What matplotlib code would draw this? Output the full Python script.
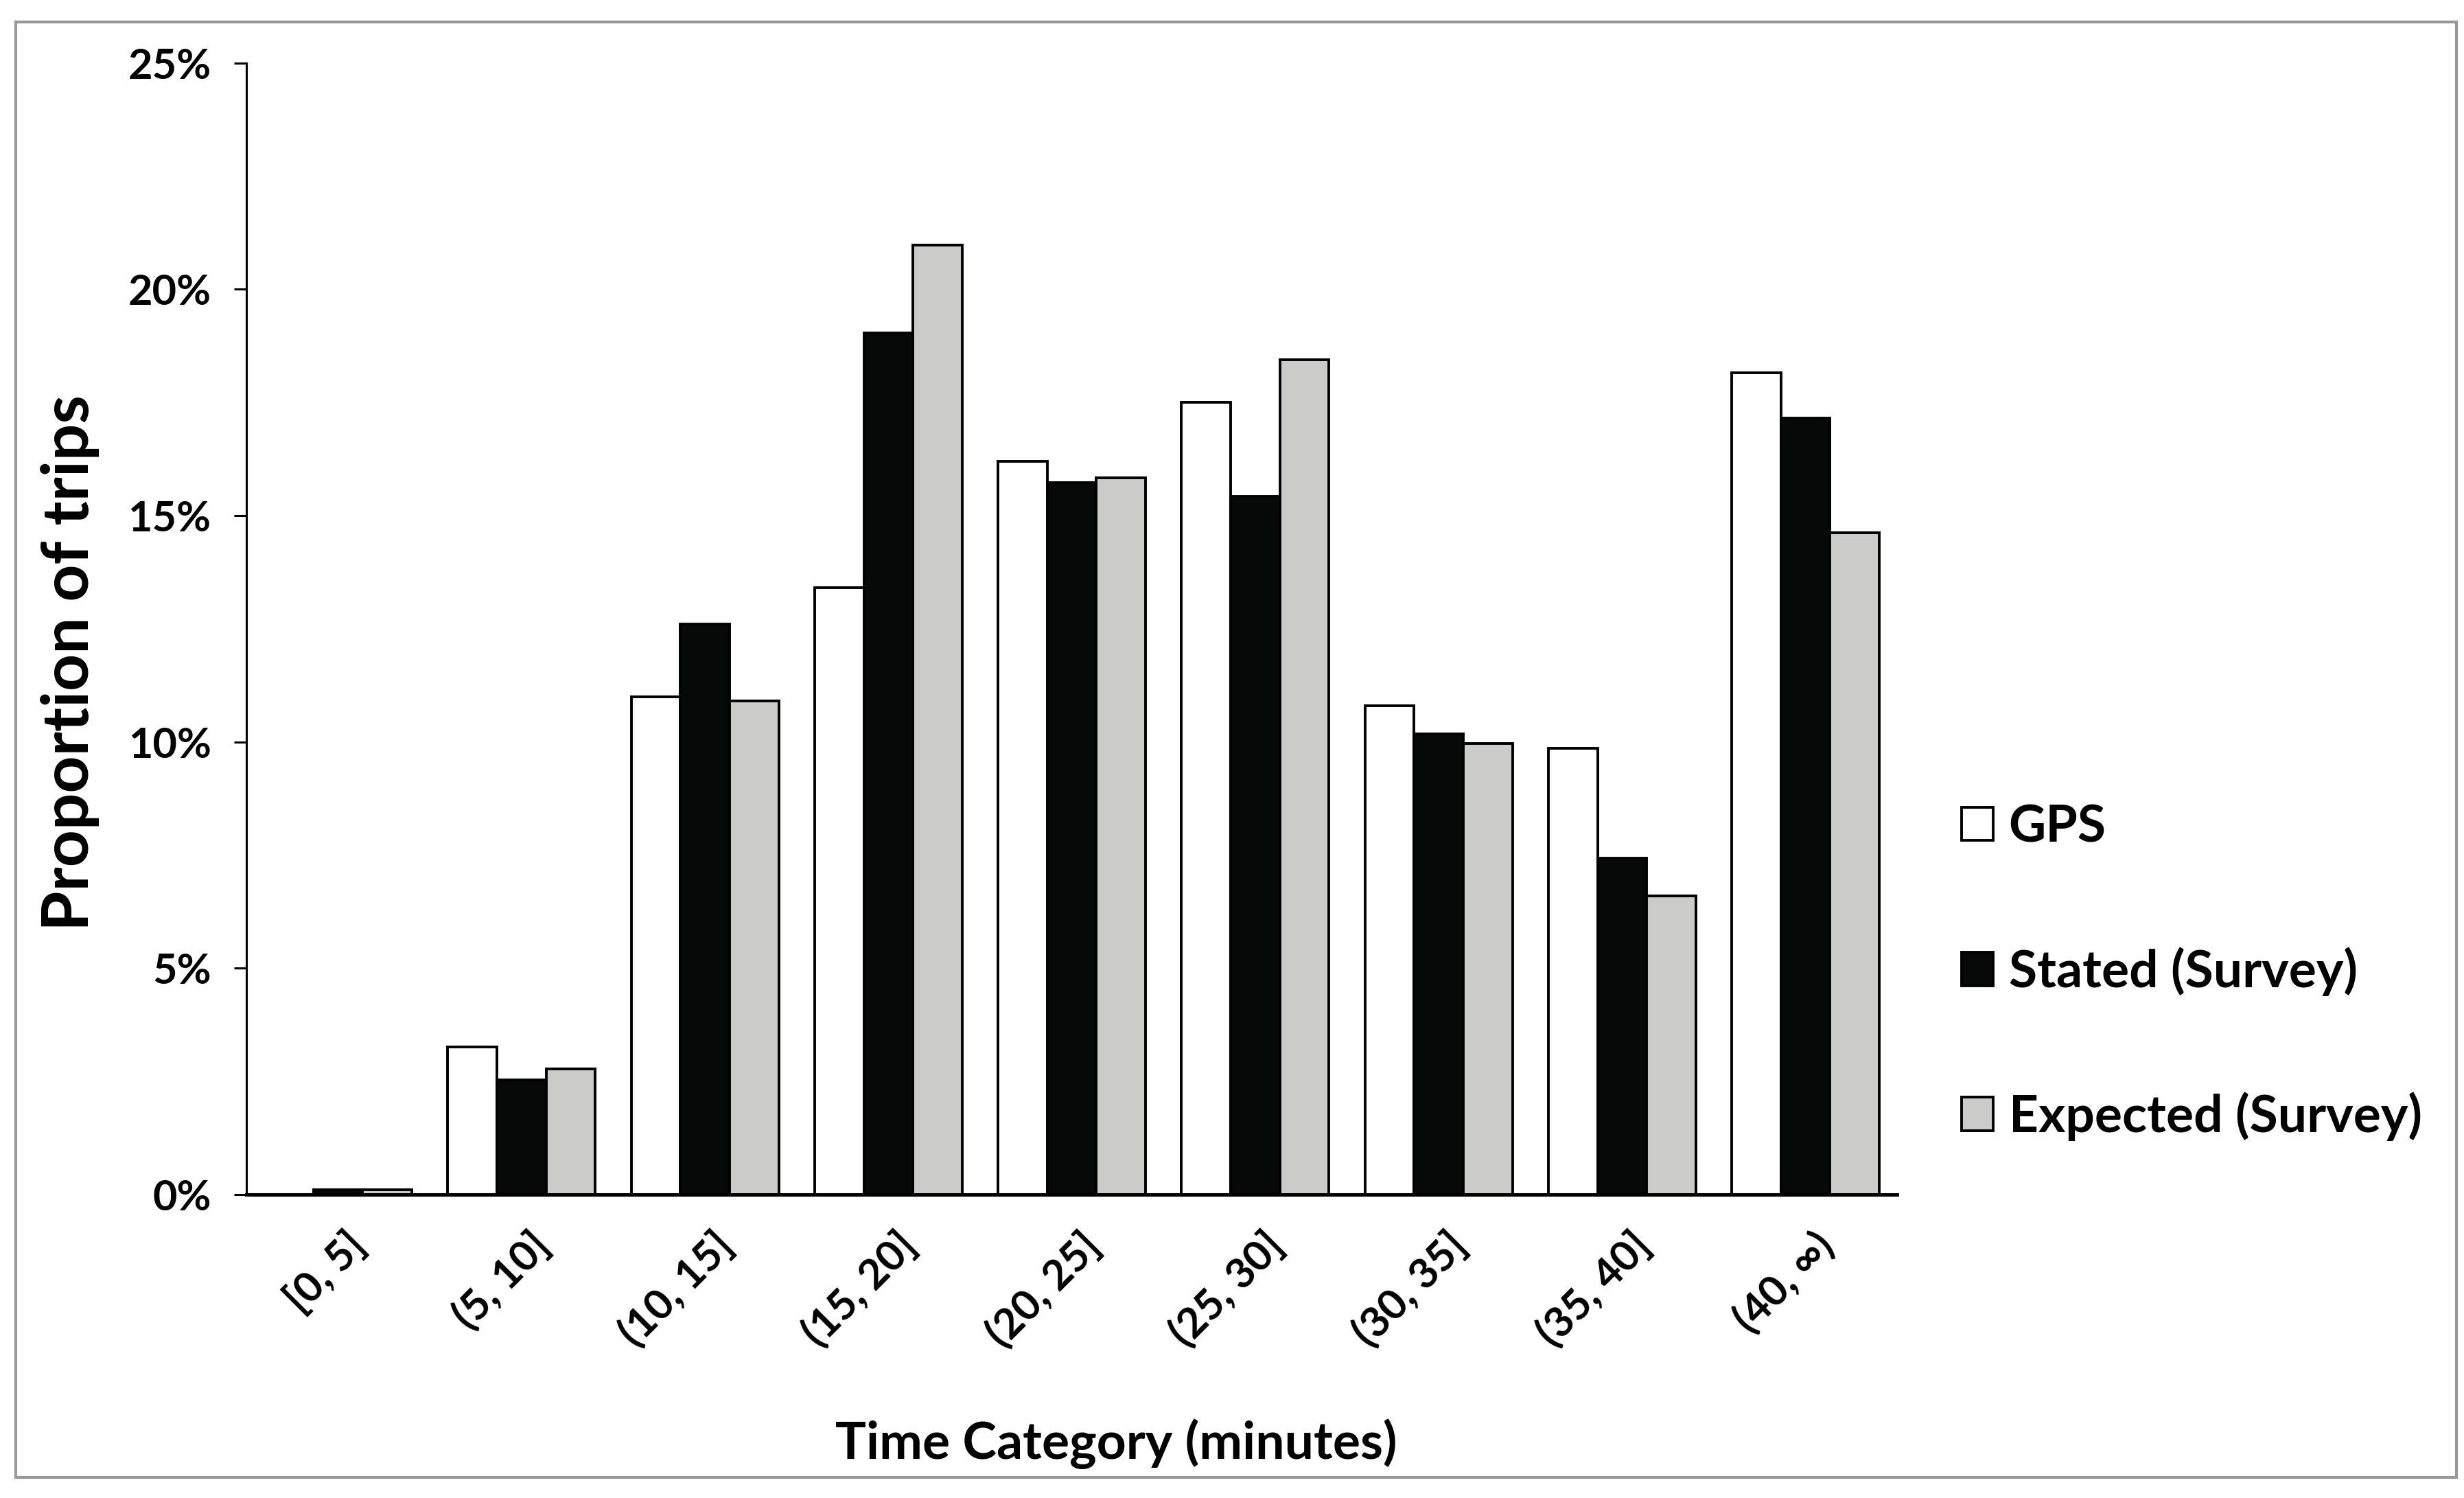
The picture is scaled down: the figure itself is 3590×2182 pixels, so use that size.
import numpy as np
import matplotlib
matplotlib.use("Agg")
import matplotlib.pyplot as plt
from matplotlib.patches import Rectangle

# data (percent of trips)
categories = ["[0, 5]", "(5, 10]", "(10, 15]", "(15, 20]", "(20, 25]",
              "(25, 30]", "(30, 35]", "(35, 40]", "(40, \u221e)"]
gps = [0.0, 3.26, 11.0, 13.4, 16.2, 17.5, 10.8, 9.86, 18.16]
stated = [0.1, 2.53, 12.6, 19.03, 15.73, 15.42, 10.17, 7.43, 17.15]
expected = [0.1, 2.78, 10.9, 20.97, 15.83, 18.44, 9.97, 6.6, 14.62]
series_names = ["GPS", "Stated (Survey)", "Expected (Survey)"]
yticks = [0, 5, 10, 15, 20, 25]
ytick_labels = ["0%", "5%", "10%", "15%", "20%", "25%"]

plt.rcParams['font.family'] = ['Lato', 'DejaVu Sans']
plt.rcParams['font.weight'] = 'bold'

fig = plt.figure(figsize=(17.95, 10.91), dpi=200)
ax = fig.add_axes([0.100, 0.2026, 0.670, 0.7554])

x = np.arange(len(categories))
w = 0.268
ax.bar(x - w, gps, w, color="white", edgecolor="black", linewidth=1.4, label=series_names[0])
ax.bar(x, stated, w, color="#070908", edgecolor="black", linewidth=1.4, label=series_names[1])
ax.bar(x + w, expected, w, color="#cbcbc9", edgecolor="black", linewidth=1.4, label=series_names[2])

ax.set_xlim(-0.5, len(categories) - 0.5)
ax.set_ylim(0, 25)
ax.set_yticks(yticks, ytick_labels, fontweight="bold")
ax.set_xticks(x + 0.04)
ax.set_xticklabels(categories, rotation=45, ha="right", rotation_mode="anchor", fontweight="bold")
ax.tick_params(axis="x", length=0, pad=16, labelsize=22)
ax.tick_params(axis="y", length=6.5, width=1.1, pad=12, labelsize=22)

for s in ["top", "right"]:
    ax.spines[s].set_visible(False)
ax.spines["left"].set_linewidth(1.1)
ax.spines["bottom"].set_linewidth(1.8)

ax.set_ylabel("Proportion of trips", fontsize=34, fontweight="bold")
ax.yaxis.set_label_coords(-0.089, 0.47)
ax.set_xlabel("Time Category (minutes)", fontsize=27, fontweight="bold")
ax.xaxis.set_label_coords(0.527, -0.198)

fig.legend(loc="center left", bbox_to_anchor=(0.796, 0.351), frameon=False,
           fontsize=27, handlelength=0.62, handleheight=0.62, handletextpad=0.3,
           labelspacing=1.86, borderpad=0, borderaxespad=0)

# grey frame around the whole chart
fig.patches.append(Rectangle((0.0064, 0.0137), 0.9906, 0.9716, transform=fig.transFigure,
                             fill=False, edgecolor="#999999", linewidth=1.5))

fig.savefig("out.png", dpi=200)
